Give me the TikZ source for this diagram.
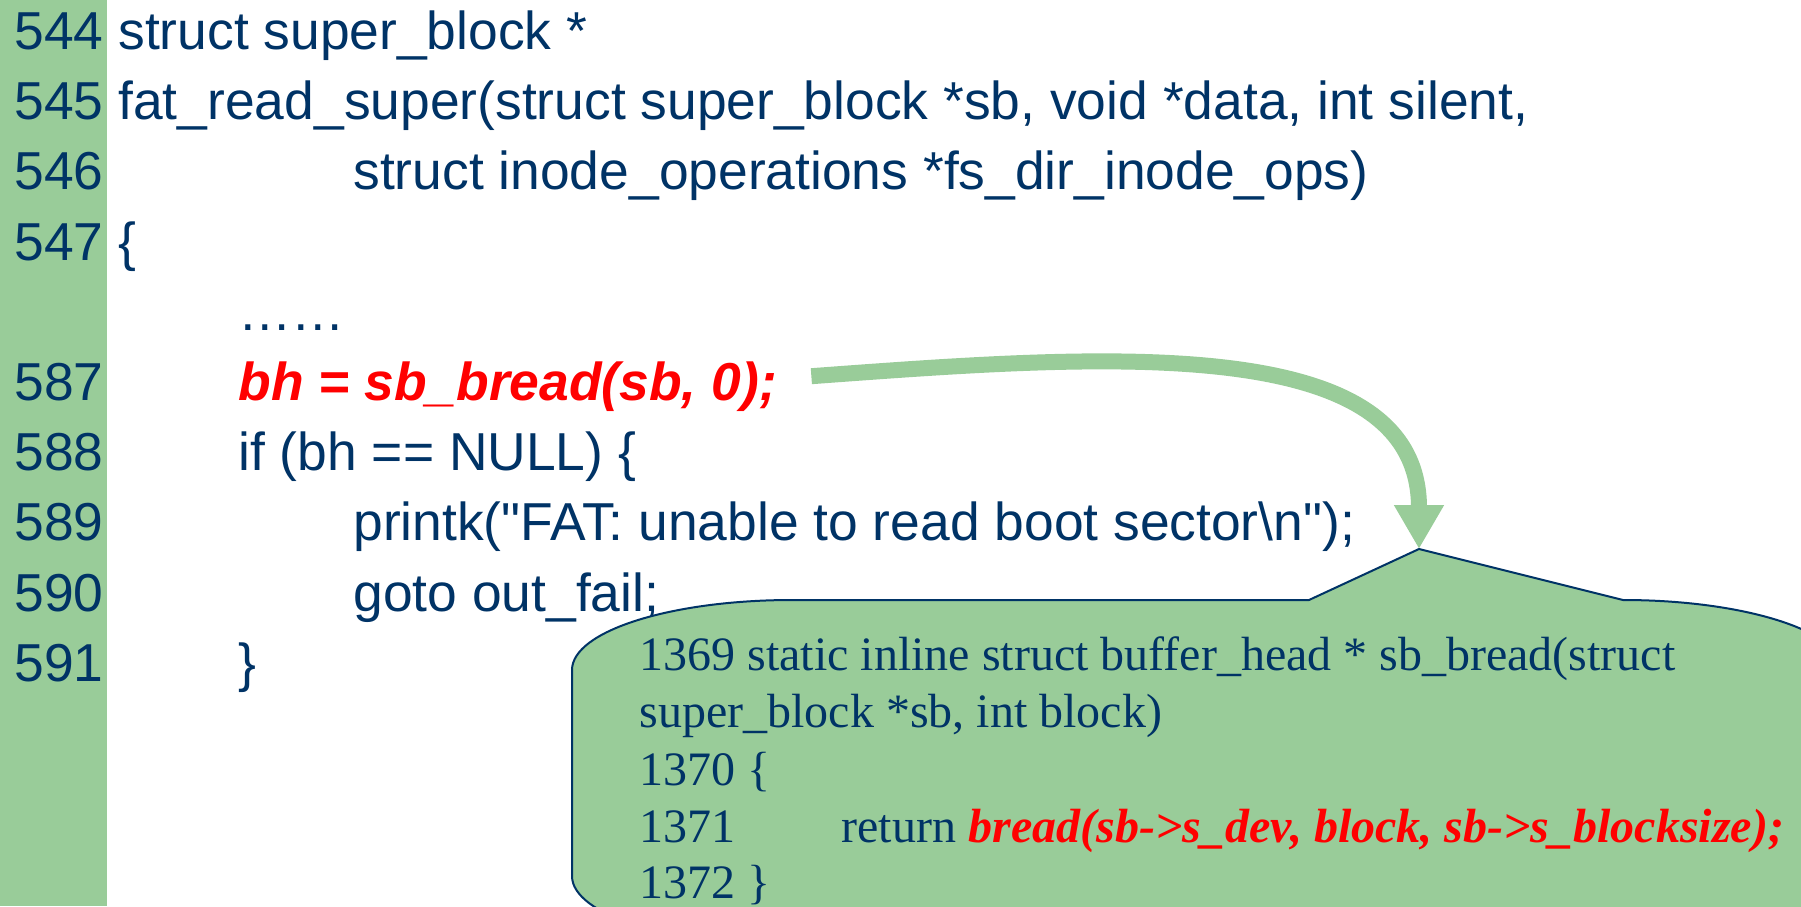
\documentclass[tikz,border=0pt]{standalone}
\usepackage{fontspec}
\setmainfont{Liberation Sans}
\newfontfamily\bubblefont{Liberation Serif}
\usetikzlibrary{arrows.meta,positioning}
\definecolor{codeblue}{RGB}{0,51,102}
\definecolor{stripgreen}{RGB}{153,204,153}
\tikzset
{
    lineno/.style   = {anchor=base east, inner sep=0pt, text=codeblue, font=\fontsize{26.7}{26.7}\selectfont},
    codeline/.style = {anchor=base west, inner sep=0pt, text=codeblue, font=\fontsize{26.7}{26.7}\selectfont},
    hotline/.style  = {codeline, text=red, font=\fontsize{26.7}{26.7}\selectfont\bfseries\itshape},
    bubbleline/.style = {anchor=base west, inner sep=0pt, text=codeblue, font=\bubblefont\fontsize{24}{24}\selectfont},
    hotcall/.style  = {bubbleline, text=red, font=\bubblefont\fontsize{24}{24}\selectfont\bfseries\itshape},
    bubble/.style   = {fill=stripgreen, draw=codeblue, line width=1pt, line join=round},
    flow/.style     = {draw=stripgreen, line width=8pt, -{Triangle[length=22pt,width=23.5pt]}}
}

\begin{document}
\begin{tikzpicture}[x=0.5pt, y=0.5pt]
\useasboundingbox (0,0) rectangle (1801,-906);
\clip (0,0) rectangle (1801,-906);
\fill[white] (0,0) rectangle (1801,-906);
% line number strip
\fill[stripgreen] (0,0) rectangle (107,-906);

% line numbers
\node[lineno] (n544) at (104,-49)  {544};
\node[lineno] (n545) at (104,-119) {545};
\node[lineno] (n546) at (104,-189) {546};
\node[lineno] (n547) at (104,-260) {547};
\node[lineno] (n587) at (104,-400) {587};
\node[lineno] (n588) at (104,-470) {588};
\node[lineno] (n589) at (104,-540) {589};
\node[lineno] (n590) at (104,-611) {590};
\node[lineno] (n591) at (104,-681) {591};

% fat_read_super
\node[codeline] (c544) at (118,-49)  {struct super\_block *};
\node[codeline] (c545) at (118,-119) {fat\_read\_super(struct super\_block *sb, void *data, int silent,};
\node[codeline] (c546) at (353,-189) {struct inode\_operations *fs\_dir\_inode\_ops)};
\node[codeline] (c547) at (118,-260) {\{};
\node[codeline] (skip) at (238,-330) {……};
\node[hotline]  (c587) at (238,-400) {bh = sb\_bread(sb, 0);};
\node[codeline] (c588) at (238,-470) {if (bh == NULL) \{};
\node[codeline] (c589) at (353,-540) {printk(\textquotedbl FAT: unable to read boot sector\textbackslash n\textquotedbl);};
\node[codeline] (c590) at (353,-611) {goto out\_fail;};
\node[codeline] (c591) at (238,-681) {\}};

% callout with sb_bread
\coordinate (ptip) at (1419,-549);
\filldraw[bubble] (572,-876) -- (572,-670)
    arc[start angle=180, end angle=90, x radius=110pt, y radius=35pt]
    -- (1309,-600) -- (ptip) -- (1623,-600)
    arc[start angle=90, end angle=0, x radius=110pt, y radius=35pt]
    -- (1843,-876)
    arc[start angle=0, end angle=-90, x radius=110pt, y radius=35pt]
    -- (792,-946)
    arc[start angle=270, end angle=180, x radius=110pt, y radius=35pt]
    -- cycle;

\node[bubbleline] (b1369) at (639,-670) {1369 static inline struct buffer\_head * sb\_bread(struct};
\node[bubbleline] (b1369b) at (639,-727) {super\_block *sb, int block)};
\node[bubbleline] (b1370) at (639,-785) {1370 \{};
\node[bubbleline] (b1371) at (639,-842) {1371};
\node[bubbleline] (ret) at (841,-842) {return};
\node[hotcall] (bread) at ([xshift=6pt]ret.base east) {bread(sb->s\_dev, block, sb->s\_blocksize);};
\node[bubbleline] (b1372) at (639,-898) {1372 \}};

% call arrow
\draw[flow] ([xshift=17pt,yshift=5pt]c587.east) .. controls (1100,-355) and (1419,-330) .. (ptip);
\end{tikzpicture}
\end{document}
